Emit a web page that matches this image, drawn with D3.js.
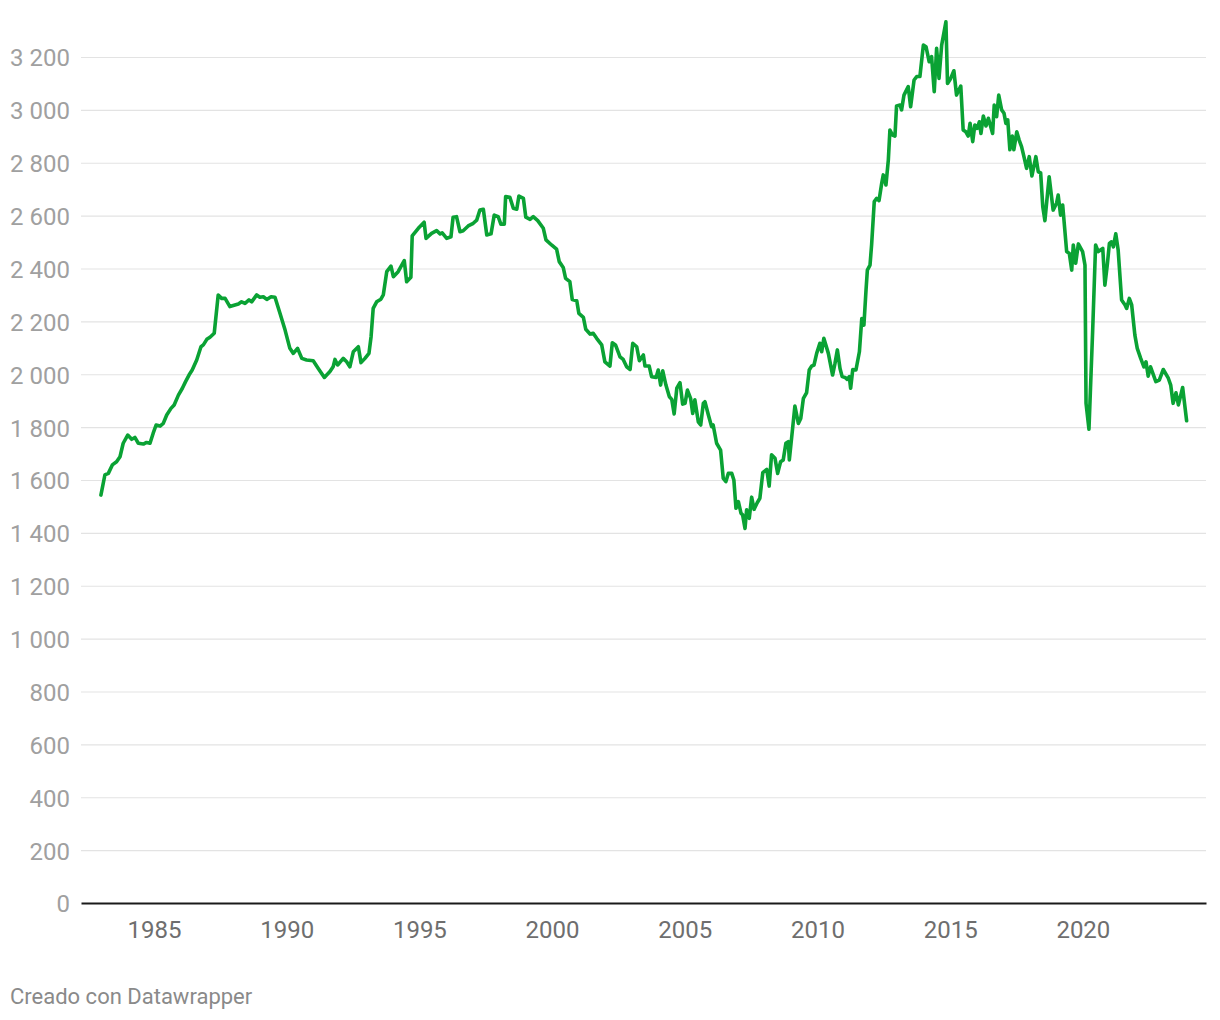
<!DOCTYPE html>
<html lang="es">
<head>
    <meta charset="UTF-8">
    <title>Chart</title>
    <style>
        body {
            margin: 0;
            background: #fff;
        }
        svg text {
            font-family: Roboto, "Noto Sans", sans-serif;
        }
    </style>
    <script src="https://d3js.org/d3.v7.min.js"></script>
</head>
<body>
    <script>
        const WIDTH = 1220;
        const HEIGHT = 1020;

        const years = [
            1983.00, 1983.15, 1983.28, 1983.43, 1983.59, 1983.72, 1983.84, 1984.01, 1984.16, 1984.28,
            1984.41, 1984.60, 1984.72, 1984.85, 1984.97, 1985.08, 1985.23, 1985.35, 1985.48, 1985.64,
            1985.76, 1985.92, 1986.07, 1986.19, 1986.32, 1986.44, 1986.61, 1986.77, 1986.86, 1986.99,
            1987.11, 1987.27, 1987.42, 1987.55, 1987.68, 1987.86, 1988.05, 1988.18, 1988.30, 1988.43,
            1988.58, 1988.68, 1988.87, 1988.99, 1989.12, 1989.25, 1989.41, 1989.56, 1989.75, 1989.94,
            1990.12, 1990.25, 1990.41, 1990.57, 1990.75, 1991.00, 1991.19, 1991.42, 1991.63, 1991.75,
            1991.82, 1991.92, 1992.13, 1992.26, 1992.38, 1992.51, 1992.70, 1992.80, 1992.95, 1993.10,
            1993.18, 1993.26, 1993.39, 1993.55, 1993.64, 1993.77, 1993.93, 1994.02, 1994.20, 1994.43,
            1994.52, 1994.68, 1994.73, 1994.96, 1995.18, 1995.25, 1995.46, 1995.65, 1995.78, 1995.86,
            1996.03, 1996.19, 1996.27, 1996.40, 1996.53, 1996.65, 1996.84, 1997.03, 1997.16, 1997.28,
            1997.41, 1997.54, 1997.70, 1997.82, 1997.97, 1998.07, 1998.20, 1998.25, 1998.41, 1998.54,
            1998.67, 1998.75, 1998.92, 1999.01, 1999.17, 1999.29, 1999.46, 1999.67, 1999.77, 1999.98,
            2000.17, 2000.27, 2000.42, 2000.51, 2000.67, 2000.76, 2000.93, 2001.01, 2001.18, 2001.27,
            2001.43, 2001.55, 2001.68, 2001.87, 2001.99, 2002.18, 2002.27, 2002.39, 2002.56, 2002.68,
            2002.81, 2002.94, 2003.04, 2003.19, 2003.29, 2003.44, 2003.50, 2003.66, 2003.75, 2003.92,
            2004.00, 2004.09, 2004.17, 2004.29, 2004.42, 2004.51, 2004.60, 2004.70, 2004.82, 2004.92,
            2005.01, 2005.10, 2005.22, 2005.30, 2005.38, 2005.51, 2005.60, 2005.70, 2005.76, 2005.89,
            2006.01, 2006.07, 2006.20, 2006.35, 2006.45, 2006.55, 2006.64, 2006.77, 2006.85, 2006.93,
            2007.02, 2007.12, 2007.18, 2007.27, 2007.33, 2007.43, 2007.52, 2007.61, 2007.73, 2007.83,
            2007.94, 2008.09, 2008.18, 2008.27, 2008.40, 2008.50, 2008.61, 2008.71, 2008.81, 2008.90,
            2008.94, 2009.07, 2009.15, 2009.28, 2009.37, 2009.47, 2009.59, 2009.69, 2009.78, 2009.87,
            2009.97, 2010.09, 2010.16, 2010.24, 2010.41, 2010.57, 2010.66, 2010.75, 2010.85, 2010.93,
            2011.04, 2011.12, 2011.20, 2011.25, 2011.33, 2011.45, 2011.58, 2011.67, 2011.75, 2011.83,
            2011.88, 2011.98, 2012.04, 2012.14, 2012.23, 2012.32, 2012.42, 2012.48, 2012.58, 2012.67,
            2012.73, 2012.83, 2012.92, 2012.98, 2013.11, 2013.17, 2013.26, 2013.42, 2013.51, 2013.64,
            2013.74, 2013.86, 2013.99, 2014.09, 2014.21, 2014.30, 2014.40, 2014.49, 2014.58, 2014.68,
            2014.84, 2014.90, 2015.02, 2015.14, 2015.24, 2015.40, 2015.49, 2015.59, 2015.68, 2015.75,
            2015.85, 2015.93, 2016.02, 2016.10, 2016.16, 2016.25, 2016.35, 2016.44, 2016.60, 2016.66,
            2016.75, 2016.83, 2016.94, 2017.03, 2017.10, 2017.17, 2017.25, 2017.34, 2017.40, 2017.51,
            2017.60, 2017.69, 2017.78, 2017.88, 2017.98, 2018.08, 2018.23, 2018.32, 2018.41, 2018.49,
            2018.57, 2018.73, 2018.88, 2019.01, 2019.07, 2019.16, 2019.24, 2019.39, 2019.49, 2019.58,
            2019.64, 2019.73, 2019.83, 2019.99, 2020.08, 2020.12, 2020.23, 2020.37, 2020.48, 2020.58,
            2020.75, 2020.83, 2020.92, 2021.00, 2021.08, 2021.15, 2021.24, 2021.33, 2021.46, 2021.59,
            2021.65, 2021.75, 2021.84, 2021.96, 2022.05, 2022.18, 2022.30, 2022.38, 2022.46, 2022.55,
            2022.75, 2022.88, 2023.03, 2023.22, 2023.31, 2023.40, 2023.51, 2023.60, 2023.76, 2023.91
        ];

        const values = [
            1543, 1619, 1625, 1657, 1669, 1688, 1739, 1770, 1754, 1761,
            1739, 1736, 1742, 1739, 1777, 1808, 1804, 1814, 1846, 1871,
            1884, 1921, 1947, 1972, 1997, 2016, 2054, 2104, 2111, 2132,
            2140, 2155, 2300, 2287, 2287, 2256, 2262, 2266, 2274, 2268,
            2281, 2274, 2300, 2291, 2293, 2283, 2293, 2291, 2230, 2167,
            2098, 2079, 2098, 2060, 2054, 2051, 2022, 1988, 2010, 2028,
            2056, 2035, 2060, 2047, 2028, 2085, 2104, 2044, 2060, 2079,
            2142, 2249, 2274, 2284, 2300, 2388, 2409, 2369, 2388, 2430,
            2350, 2367, 2523, 2552, 2575, 2514, 2533, 2543, 2531, 2535,
            2514, 2520, 2594, 2596, 2539, 2543, 2561, 2571, 2583, 2621,
            2624, 2527, 2531, 2602, 2596, 2568, 2568, 2672, 2669, 2628,
            2624, 2674, 2665, 2594, 2586, 2596, 2581, 2552, 2508, 2489,
            2473, 2426, 2404, 2363, 2350, 2283, 2278, 2230, 2215, 2170,
            2152, 2155, 2136, 2111, 2047, 2031, 2119, 2111, 2066, 2056,
            2028, 2018, 2117, 2104, 2051, 2073, 2031, 2031, 1991, 1988,
            2016, 1959, 2013, 1959, 1915, 1905, 1850, 1947, 1968, 1887,
            1890, 1940, 1909, 1852, 1903, 1820, 1808, 1890, 1896, 1846,
            1802, 1808, 1739, 1713, 1606, 1594, 1625, 1625, 1600, 1493,
            1518, 1474, 1468, 1417, 1487, 1455, 1535, 1489, 1514, 1531,
            1628, 1640, 1577, 1695, 1682, 1625, 1669, 1676, 1739, 1745,
            1676, 1802, 1880, 1814, 1833, 1909, 1930, 2016, 2031, 2035,
            2079, 2117, 2085, 2136, 2079, 1997, 2041, 2092, 2022, 1991,
            1988, 1981, 1991, 1947, 2018, 2016, 2085, 2211, 2186, 2319,
            2394, 2413, 2489, 2653, 2665, 2657, 2722, 2754, 2716, 2810,
            2924, 2905, 2901, 3015, 3018, 3000, 3056, 3088, 3012, 3113,
            3126, 3126, 3245, 3239, 3182, 3201, 3069, 3233, 3119, 3245,
            3333, 3100, 3119, 3148, 3056, 3090, 2924, 2917, 2901, 2949,
            2880, 2943, 2930, 2955, 2911, 2977, 2939, 2968, 2911, 3018,
            2974, 3056, 3000, 2987, 2949, 2962, 2849, 2901, 2849, 2917,
            2886, 2861, 2823, 2779, 2823, 2750, 2823, 2766, 2762, 2634,
            2581, 2747, 2621, 2647, 2678, 2602, 2640, 2464, 2457, 2394,
            2489, 2420, 2493, 2464, 2413, 1890, 1792, 2167, 2489, 2464,
            2476, 2337, 2413, 2495, 2501, 2482, 2531, 2470, 2281, 2262,
            2249, 2287, 2262, 2148, 2098, 2060, 2028, 2047, 1993, 2028,
            1972, 1978, 2018, 1985, 1959, 1890, 1930, 1884, 1950, 1824
        ];

        const xTicks = [1985, 1990, 1995, 2000, 2005, 2010, 2015, 2020];
        const yTicks = [0, 200, 400, 600, 800, 1000, 1200, 1400, 1600, 1800,
                        2000, 2200, 2400, 2600, 2800, 3000, 3200];

        const data = years.map((y, i) => ({ year: y, value: values[i] }));

        const svg = d3.select("body").append("svg")
            .attr("width", WIDTH)
            .attr("height", HEIGHT);

        const x = d3.scaleLinear()
            .domain([1982.25, 2024.64])
            .range([81, 1206]);

        const y = d3.scaleLinear()
            .domain([0, 3200])
            .range([903, 57]);

        // thousands separated by a space, as in the original
        const fmt = d => d3.format(",")(d).replace(/,/g, " ");

        // gridlines + y labels
        const yAxis = svg.append("g")
            .attr("transform", "translate(81,0)")
            .call(d3.axisLeft(y)
                .tickValues(yTicks)
                .tickSize(-(1206 - 81))
                .tickPadding(11)
                .tickFormat(fmt));
        yAxis.select(".domain").remove();
        yAxis.selectAll(".tick line")
            .attr("stroke", d => d === 0 ? "none" : "#e3e3e3")
            .attr("stroke-width", 1.2);
        yAxis.selectAll(".tick text")
            .attr("dy", "0.37em")
            .attr("fill", "#a0a0a0")
            .attr("font-size", "24px");

        // x axis with baseline
        const xAxis = svg.append("g")
            .attr("transform", "translate(0,903)")
            .call(d3.axisBottom(x)
                .tickValues(xTicks)
                .tickSize(0)
                .tickPadding(18)
                .tickFormat(d3.format("d")));
        xAxis.select(".domain")
            .attr("stroke", "#1a1a1a")
            .attr("stroke-width", 2);
        xAxis.selectAll(".tick text")
            .attr("fill", "#6e6e6e")
            .attr("font-size", "24px");

        const line = d3.line()
            .x(d => x(d.year))
            .y(d => y(d.value));

        svg.append("path")
            .datum(data)
            .attr("d", line)
            .attr("fill", "none")
            .attr("stroke", "#0aa234")
            .attr("stroke-width", 3.6)
            .attr("stroke-linejoin", "round")
            .attr("stroke-linecap", "round");

        svg.append("text")
            .attr("x", 10)
            .attr("y", 1004)
            .attr("font-size", "22px")
            .attr("fill", "#8a8a8a")
            .text("Creado con Datawrapper");
    </script>
</body>
</html>
